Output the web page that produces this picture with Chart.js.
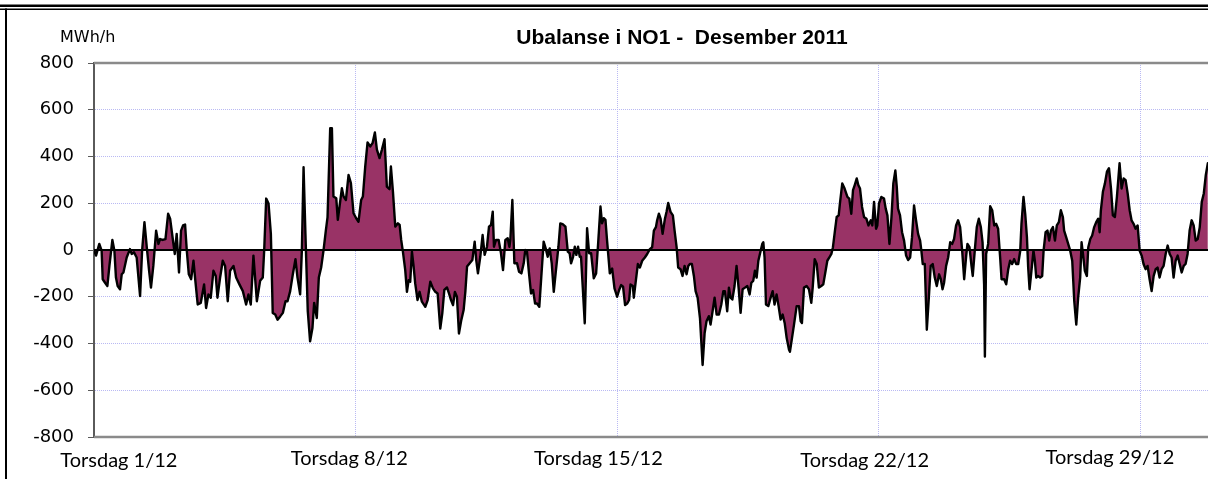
<!DOCTYPE html>
<html>
<head>
<meta charset="utf-8">
<title>Ubalanse i NO1 - Desember 2011</title>
<script src="https://cdn.jsdelivr.net/npm/chart.js@4.4.0/dist/chart.umd.min.js"></script>
<style>
	html, body { margin: 0; padding: 0; background: #fff; overflow: hidden; }
	#boks { position: relative; width: 1208px; height: 479px; }
</style>
</head>
<body>
<div id="boks"><canvas id="graficoUbalanse" width="1208" height="479"></canvas></div>
<script>
// timer etter 1/12 kl 00 (x), ubalanse i MWh/h (y)
var timer = [
	0, 1.3, 3.4, 4.9, 5.6, 7.1, 8.6, 9.9, 11.8, 13.1,
	14.1, 15.2, 16.7, 17.8, 18.9, 21.0, 23.1, 24.2, 25.7, 27.4,
	29.6, 30.9, 32.4, 33.9, 35.4, 36.6, 38.1, 39.9, 41.4, 42.4,
	44.1, 45.9, 47.6, 48.9, 50.6, 51.9, 53.1, 54.6, 55.9, 57.2,
	58.5, 59.6, 60.9, 62.4, 63.9, 65.1, 66.6, 68.6, 70.7, 72.0,
	73.5, 75.0, 76.7, 78.2, 79.3, 81.0, 82.7, 84.2, 85.9, 87.4,
	89.6, 91.3, 93.4, 95.6, 97.7, 99.2, 100.7, 102.4, 104.6, 106.7,
	108.4, 109.3, 110.6, 112.1, 113.6, 114.8, 116.4, 117.9, 119.6, 121.3,
	123.0, 124.3, 126.0, 127.7, 129.4, 130.7, 132.4, 133.5, 134.6, 135.8,
	137.3, 138.8, 140.3, 141.4, 143.1, 144.4, 145.9, 147.4, 148.9, 150.0,
	151.7, 152.8, 153.8, 155.6, 156.6, 157.7, 159.2, 160.3, 161.8, 163.5,
	165.0, 166.7, 168.4, 169.9, 171.6, 172.7, 174.2, 175.7, 177.4, 178.9,
	180.4, 181.7, 183.4, 184.9, 186.6, 188.1, 189.8, 190.7, 192.0, 193.5,
	195.2, 196.3, 197.3, 198.4, 199.9, 201.0, 202.1, 203.1, 204.2, 205.3,
	206.3, 207.8, 209.1, 210.6, 212.8, 214.3, 216.0, 217.7, 219.2, 220.7,
	222.4, 223.7, 225.0, 226.7, 228.0, 229.3, 230.6, 231.8, 233.1, 234.4,
	235.9, 237.4, 238.5, 239.6, 241.3, 243.0, 244.5, 245.5, 246.6, 248.1,
	249.6, 250.9, 252.4, 253.7, 255.0, 256.1, 256.9, 258.2, 259.9, 261.4,
	262.7, 264.2, 265.7, 266.8, 267.4, 268.7, 270.0, 271.7, 273.0, 274.5,
	276.0, 277.0, 278.1, 279.4, 280.7, 282.0, 283.3, 284.5, 286.0, 287.3,
	288.8, 290.1, 291.4, 292.7, 294.0, 295.3, 296.5, 298.3, 299.5, 301.0,
	302.8, 304.3, 305.5, 306.4, 307.7, 308.8, 309.8, 310.9, 312.0, 312.8,
	313.9, 315.2, 316.7, 318.0, 319.3, 321.0, 322.5, 323.8, 325.3, 326.3,
	327.4, 328.5, 329.5, 331.3, 332.8, 334.3, 336.0, 337.3, 338.6, 339.8,
	341.1, 342.4, 343.7,
	344.6, 346.1, 346.7, 348.0, 349.3, 350.6, 352.1, 353.8, 355.3, 357.0,
	358.5, 359.6, 360.9, 361.7, 362.8, 363.9, 365.2, 366.7, 367.7, 368.8,
	370.3, 371.8, 372.9, 374.2, 375.2, 376.7, 378.0, 379.3, 380.6, 381.7,
	382.7, 384.0, 385.3, 386.4, 387.7, 389.2, 390.9, 392.2, 393.4, 394.9,
	396.0, 397.3, 398.6, 399.9, 401.4, 402.9, 404.2, 405.2, 406.7, 407.8,
	408.9, 410.0, 411.4, 412.7, 414.0, 415.3, 416.6, 418.1, 419.6, 421.1,
	422.2, 423.4, 424.5, 425.6, 426.7, 427.7, 429.2, 429.9, 430.7, 431.6,
	433.1, 434.6, 435.9, 437.1, 438.4, 439.7, 441.0, 442.3, 443.6, 444.9,
	446.4, 447.0, 448.3, 449.6, 451.3, 452.8, 453.9, 454.7, 456.0, 457.7,
	459.2, 460.7, 461.6, 462.9, 464.2, 465.6, 467.1, 468.4, 469.9, 471.0,
	472.3, 473.6, 474.6, 475.9, 477.0, 478.3, 479.1, 480.6, 482.1, 483.9,
	485.1, 486.4, 487.5, 488.6, 489.9, 490.9, 492.0, 493.3, 494.6, 496.1,
	497.4, 498.9, 499.9, 501.0, 502.3, 503.1, 504.2, 505.7,
	507.4, 508.5, 509.6, 510.9, 512.2, 513.4, 514.7, 515.6, 516.4, 517.7,
	519.0, 520.3, 521.6, 522.9, 524.2, 525.4, 526.7, 528.0, 529.3, 530.6,
	531.4, 532.3, 533.6, 534.9, 536.2, 537.4, 538.7, 540.0, 541.3, 542.8,
	543.9, 545.0, 546.0, 547.3, 548.6, 549.9, 551.2, 552.4, 553.7, 555.0,
	556.3, 557.6, 558.9, 560.2, 561.0, 562.3, 563.6, 564.4, 565.7, 567.0,
	568.3, 569.6, 570.7, 571.7, 572.2, 573.0, 574.3, 575.6, 576.9, 578.2,
	579.4, 580.7, 582.0, 582.9, 584.6, 585.9, 587.2, 588.4, 589.7, 591.0,
	592.3, 593.6, 594.9, 595.7, 597.0, 598.1, 599.2, 600.0, 600.9, 602.1,
	603.4, 604.3, 605.2, 606.4, 607.7, 609.0, 609.9, 611.2, 612.4, 613.5,
	614.6, 615.9, 617.2, 618.4, 619.7, 621.0, 622.3, 623.1, 624.4, 625.7,
	627.0, 628.3, 629.6, 630.9, 632.1, 633.4, 634.3, 635.2, 636.4, 637.7,
	638.6, 639.9, 641.1, 642.4, 643.7, 645.0, 645.9, 646.7, 648.0, 649.3,
	650.6, 651.9, 653.2, 654.4, 655.7, 657.0, 658.7, 660.0, 661.3, 662.6,
	663.9, 665.2, 666.4, 667.7, 669.0, 670.3, 671.6, 672.9, 674.1, 675.4,
	676.7, 678.0, 679.3, 680.6, 681.9, 683.1, 684.4, 685.7, 687.0, 688.3,
	689.6, 690.9, 692.1, 693.4, 694.7, 696.0, 697.3, 698.6, 699.9, 701.1,
	702.4, 703.7, 705.0, 706.3, 707.6, 708.9, 710.2, 711.5, 712.8, 714.1,
	715.4
];

var ubalanse = [
	0, -24, 26, -3, -125, -140, -154, -68, 43, -3,
	-118, -154, -168, -104, -96, -32, 4, -17, -10, -32,
	-197, -3, 119, 12, -89, -161, -68, 83, 26, 47,
	43, 47, 155, 134, 47, -17, 69, -96, 83, 105,
	109, -3, -104, -125, -46, -132, -233, -226, -147, -248,
	-190, -204, -89, -111, -204, -118, -46, -68, -219, -89,
	-68, -118, -147, -176, -233, -190, -233, -24, -219, -132,
	-118, -3, 220, 199, 69, -269, -276, -298, -284, -269,
	-219, -219, -176, -104, -39, -118, -190, -3, 354, 69,
	-262, -391, -334, -226, -291, -118, -75, -3, 83, 141,
	521, 521, 229, 221, 129, 186, 264, 229, 214, 321,
	286, 157, 136, 121, 214, 229, 357, 460, 443, 457,
	503, 429, 393, 429, 474, 271, 260, 357, 250, 100,
	114, 107, 43, -7, -86, -179, -129, -136, -7, -71,
	-143, -214, -179, -221, -243, -214, -136, -164, -179, -186,
	-336, -271, -171, -160, -186, -214, -236, -179, -200, -357,
	-300, -257, -179, -71, -57, -43, 36, -43, -100, -29,
	64, -21, 14, 100, 107, 164, 14, 43, 43, -14,
	-86, 43, 50, 14, 43, 214, -57, -57, -93, -100,
	-57, 0, -7, -100, -186, -171, -229, -229, -243, -114,
	36, 7, -29, 7, -57, -179, -100, 14, 114, 111,
	100, -7, -14, -57, -29, 14, -21, 14, -29, -29,
	-157, -314, 93, -14, -14, -121, -100, 29, 186, 114,
	136, 129, 43, -100, -79, -164, -200, -171, -150, -157,
	-236, -229, -214,
	-147, -154, -204, -132, -60, -75, -46, -32, -17, 4,
	12, 83, 98, 127, 155, 134, 69, 134, 163, 201,
	163, 148, 83, 12, -75, -82, -111, -68, -104, -68,
	-60, -60, -111, -176, -204, -291, -492, -355, -305, -283,
	-319, -262, -204, -276, -276, -233, -176, -176, -262, -161,
	-204, -212, -154, -68, -161, -269, -168, -161, -154, -190,
	-140, -132, -89, -118, -46, -17, 26, 33, -32, -233,
	-240, -204, -176, -233, -190, -240, -298, -276, -312, -377,
	-427, -435, -377, -319, -240, -240, -305, -312, -161, -154,
	-168, -226, -161, -39, -60, -161, -154, -147, -89, -46,
	-32, -17, 12, 83, 141, 148, 199, 285, 263, 227,
	220, 155, 256, 278, 306, 278, 263, 184, 141, 134,
	105, 127, 105, 206, 91, 105, 199, 227,
	220, 177, 148, 26, 141, 285, 340, 271, 177, 148,
	76, 40, -24, -43, -32, 55, 191, 127, 69, 40,
	-3, -60, -60, -341, -204, -68, -60, -118, -154, -104,
	-125, -168, -140, -68, -32, 33, 26, 47, 105, 127,
	98, -3, -125, -24, 26, 12, -68, -111, -3, 98,
	134, 98, 33, -147, -456, -17, 26, 187, 170, 105,
	112, 91, -32, -125, -125, -147, -82, -46, -60, -39,
	-60, -60, -3, 112, 227, 155, 55, -75, -168, -89,
	-3, -46, -118, -111, -118, -111, -3, 76, 83, 40,
	83, 98, 40, 105, 119, 170, 141, 83, 55, 26,
	-3, -46, -219, -319, -204, -118, 33, -17, -89, -111,
	12, 47, 62, 98, 119, 134, 76, 170, 249, 285,
	335, 350, 263, 148, 141, 227, 371, 263, 306, 299,
	242, 170, 127, 112, 91, 105, -3, -24, -60, -82,
	-68, -125, -176, -111, -82, -75, -118, -82, -68, -17,
	19, -17, -32, -118, -46, -24, -60, -96, -68, -60,
	-17, 83, 127, 105, 40, 47, 98, 206, 242, 321,
	371
];

// aksetekster
var dagTekster = ['Torsdag 1/12', 'Torsdag 8/12', 'Torsdag 15/12', 'Torsdag 22/12', 'Torsdag 29/12'];
var dagTimer = [16, 164, 324, 495, 652.5];
var yMin = -800;
var yMaks = 800;
var ySteg = 200;
var ukeSteg = 168;

var Ubalanse = Ubalanse || {};

Ubalanse.Grafico = (function() {

	var gridFarge = '#b9b9f3';
	var aksFarge = '#5a5a5a';

	function Grafico() {
		this.ctx = document.getElementById('graficoUbalanse').getContext('2d');
	}

	Grafico.prototype.iniciar = function() {
		var pontos = timer.map(function(t, i) {
			return { x: t, y: ubalanse[i] };
		});

		new Chart(this.ctx, {
			type: 'line',
			data: {
				datasets: [{
					label: 'Ubalanse',
					data: pontos,
					borderColor: '#000',
					borderWidth: 2.4,
					borderJoinStyle: 'round',
					borderCapStyle: 'round',
					backgroundColor: '#993366',
					fill: 'origin',
					tension: 0,
					pointRadius: 0
				}]
			},
			options: {
				responsive: false,
				animation: false,
				devicePixelRatio: 1,
				layout: { padding: { top: 63, left: 0, right: 0, bottom: 0 } },
				plugins: {
					legend: { display: false },
					title: { display: false },
					tooltip: { enabled: false }
				},
				scales: {
					x: {
						type: 'linear',
						min: 0,
						max: 715.5,
						border: { display: false, dash: [1, 1] },
						grid: { color: gridFarge, lineWidth: 1, drawTicks: false },
						ticks: { display: false, stepSize: ukeSteg, includeBounds: false },
						afterFit: function(s) {
							s.height = 42;
							s.paddingLeft = 0;
							s.paddingRight = 0;
						}
					},
					y: {
						min: yMin,
						max: yMaks,
						border: { display: true, color: aksFarge, width: 2, dash: [1, 1] },
						grid: {
							color: function(c) {
								var v = c.tick.value;
								return (v === yMin || v === yMaks || v === 0) ? 'rgba(0,0,0,0)' : gridFarge;
							},
							tickColor: aksFarge,
							tickLength: 6,
							lineWidth: 1
						},
						ticks: {
							stepSize: ySteg,
							padding: 14,
							color: '#000',
							font: { family: '"DejaVu Sans", sans-serif', size: 18 },
							callback: function(v) { return String(v); }
						},
						afterFit: function(s) {
							s.width = 94;
							s.paddingTop = 0;
							s.paddingBottom = 0;
						}
					}
				}
			},
			plugins: [rammePlugin]
		});
	};

	var rammePlugin = {
		id: 'ramme',
		beforeDraw: function(chart) {
			var ctx = chart.ctx;
			ctx.save();
			ctx.fillStyle = '#fff';
			ctx.fillRect(0, 0, chart.width, chart.height);
			ctx.restore();
		},
		afterDatasetsDraw: function(chart) {
			var ctx = chart.ctx;
			var area = chart.chartArea;
			var y = chart.scales.y;
			ctx.save();
			// plottramme topp og bunn
			ctx.strokeStyle = '#8a8a8a';
			ctx.lineWidth = 2.5;
			[yMaks, yMin].forEach(function(v) {
				var p = y.getPixelForValue(v);
				ctx.beginPath();
				ctx.moveTo(area.left, p);
				ctx.lineTo(area.right, p);
				ctx.stroke();
			});
			// nullinje
			var y0 = y.getPixelForValue(0);
			ctx.strokeStyle = '#000';
			ctx.lineWidth = 2;
			ctx.beginPath();
			ctx.moveTo(area.left, y0);
			ctx.lineTo(area.right, y0);
			ctx.stroke();
			ctx.restore();
		},
		afterDraw: function(chart) {
			var ctx = chart.ctx;
			var x = chart.scales.x;
			var w = chart.width;
			ctx.save();
			// ytre ramme
			ctx.fillStyle = '#000';
			ctx.fillRect(0, 4.5, w, 2.5);
			ctx.fillRect(0, 8.5, w, 1.5);
			ctx.fillRect(5, 8.5, 2, chart.height);

			ctx.fillStyle = '#000';
			ctx.textBaseline = 'alphabetic';
			ctx.textAlign = 'center';
			ctx.font = 'bold 21px "Liberation Sans", Arial, sans-serif';
			ctx.fillText('Ubalanse i NO1 -  Desember 2011', 682, 44);

			ctx.textAlign = 'left';
			ctx.font = '16px "DejaVu Sans", sans-serif';
			ctx.fillText('MWh/h', 60, 42);

			ctx.textAlign = 'center';
			ctx.font = '20px Lato, sans-serif';
			var grunnlinje = [467, 465, 465, 467, 464];
			dagTekster.forEach(function(tekst, i) {
				ctx.fillText(tekst, x.getPixelForValue(dagTimer[i]), grunnlinje[i]);
			});
			ctx.restore();
		}
	};

	return Grafico;

}());

(function() {
	var grafico = new Ubalanse.Grafico();
	grafico.iniciar();
})();
</script>
</body>
</html>
